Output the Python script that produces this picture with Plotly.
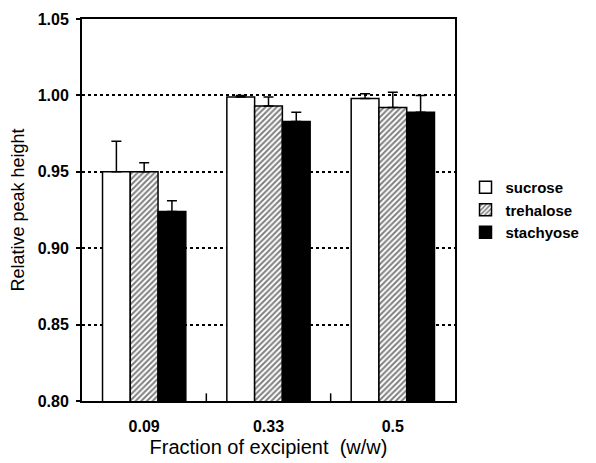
import plotly.graph_objects as go

categories = ["0.09", "0.33", "0.5"]
sucrose = [0.950, 0.999, 0.998]
sucrose_err = [0.020, 0.001, 0.003]
trehalose = [0.950, 0.993, 0.992]
trehalose_err = [0.006, 0.006, 0.010]
stachyose = [0.924, 0.983, 0.989]
stachyose_err = [0.007, 0.006, 0.011]
y_ticks = [0.80, 0.85, 0.90, 0.95, 1.00, 1.05]

FONT = "Liberation Sans, Arial, sans-serif"

def err(a):
    return dict(type="data", array=a, arrayminus=[0] * len(a), symmetric=False,
                color="black", thickness=1.5, width=5)

fig = go.Figure()
fig.add_trace(go.Bar(name="sucrose", x=categories, y=sucrose, error_y=err(sucrose_err),
                     marker=dict(color="white", line=dict(color="black", width=1.5))))
fig.add_trace(go.Bar(name="trehalose", x=categories, y=trehalose, error_y=err(trehalose_err),
                     marker=dict(color="white", line=dict(color="black", width=1.5),
                                 pattern=dict(shape="/", fgcolor="black", bgcolor="white",
                                              size=4, solidity=0.5))))
fig.add_trace(go.Bar(name="stachyose", x=categories, y=stachyose, error_y=err(stachyose_err),
                     marker=dict(color="black", line=dict(color="black", width=1.5))))

fig.update_layout(
    width=596, height=463,
    margin=dict(l=82, r=121, t=19, b=62),
    paper_bgcolor="white", plot_bgcolor="white",
    barmode="group", bargap=0.33, bargroupgap=0,
    font=dict(family=FONT, color="black", size=13),
    showlegend=True,
    legend=dict(x=1.055, xanchor="left", y=0.50, yanchor="middle",
                font=dict(family=FONT, size=15, color="black", weight="bold"),
                tracegroupgap=0, itemwidth=30, indentation=-10, bgcolor="rgba(0,0,0,0)"),
    xaxis=dict(title=dict(text="Fraction of excipient  (w/w)", font=dict(size=20), standoff=6),
               automargin=False,
               showline=True, linecolor="black", linewidth=2, mirror=True,
               ticks="", tickfont=dict(size=16, weight="bold"), ticklabelstandoff=10,
               showgrid=False, fixedrange=True),
    yaxis=dict(title=dict(text="Relative peak height", font=dict(size=18), standoff=8),
               automargin=False,
               range=[0.80, 1.05], tickvals=y_ticks, ticktext=[f"{v:.2f}" for v in y_ticks],
               showline=True, linecolor="black", linewidth=2, mirror=True,
               ticks="outside", ticklen=4, tickwidth=1.5, tickcolor="black",
               tickfont=dict(size=16, weight="bold"), ticklabelstandoff=4,
               showgrid=True, gridcolor="black", griddash="dot", gridwidth=2,
               zeroline=False),
)

# category boundary tick marks on x axis
for xb in [0.5, 1.5]:
    fig.add_shape(type="line", xref="x", yref="paper", x0=xb, x1=xb, y0=0, y1=0.02,
                  line=dict(color="black", width=1.5))

fig.write_html("out.html")
